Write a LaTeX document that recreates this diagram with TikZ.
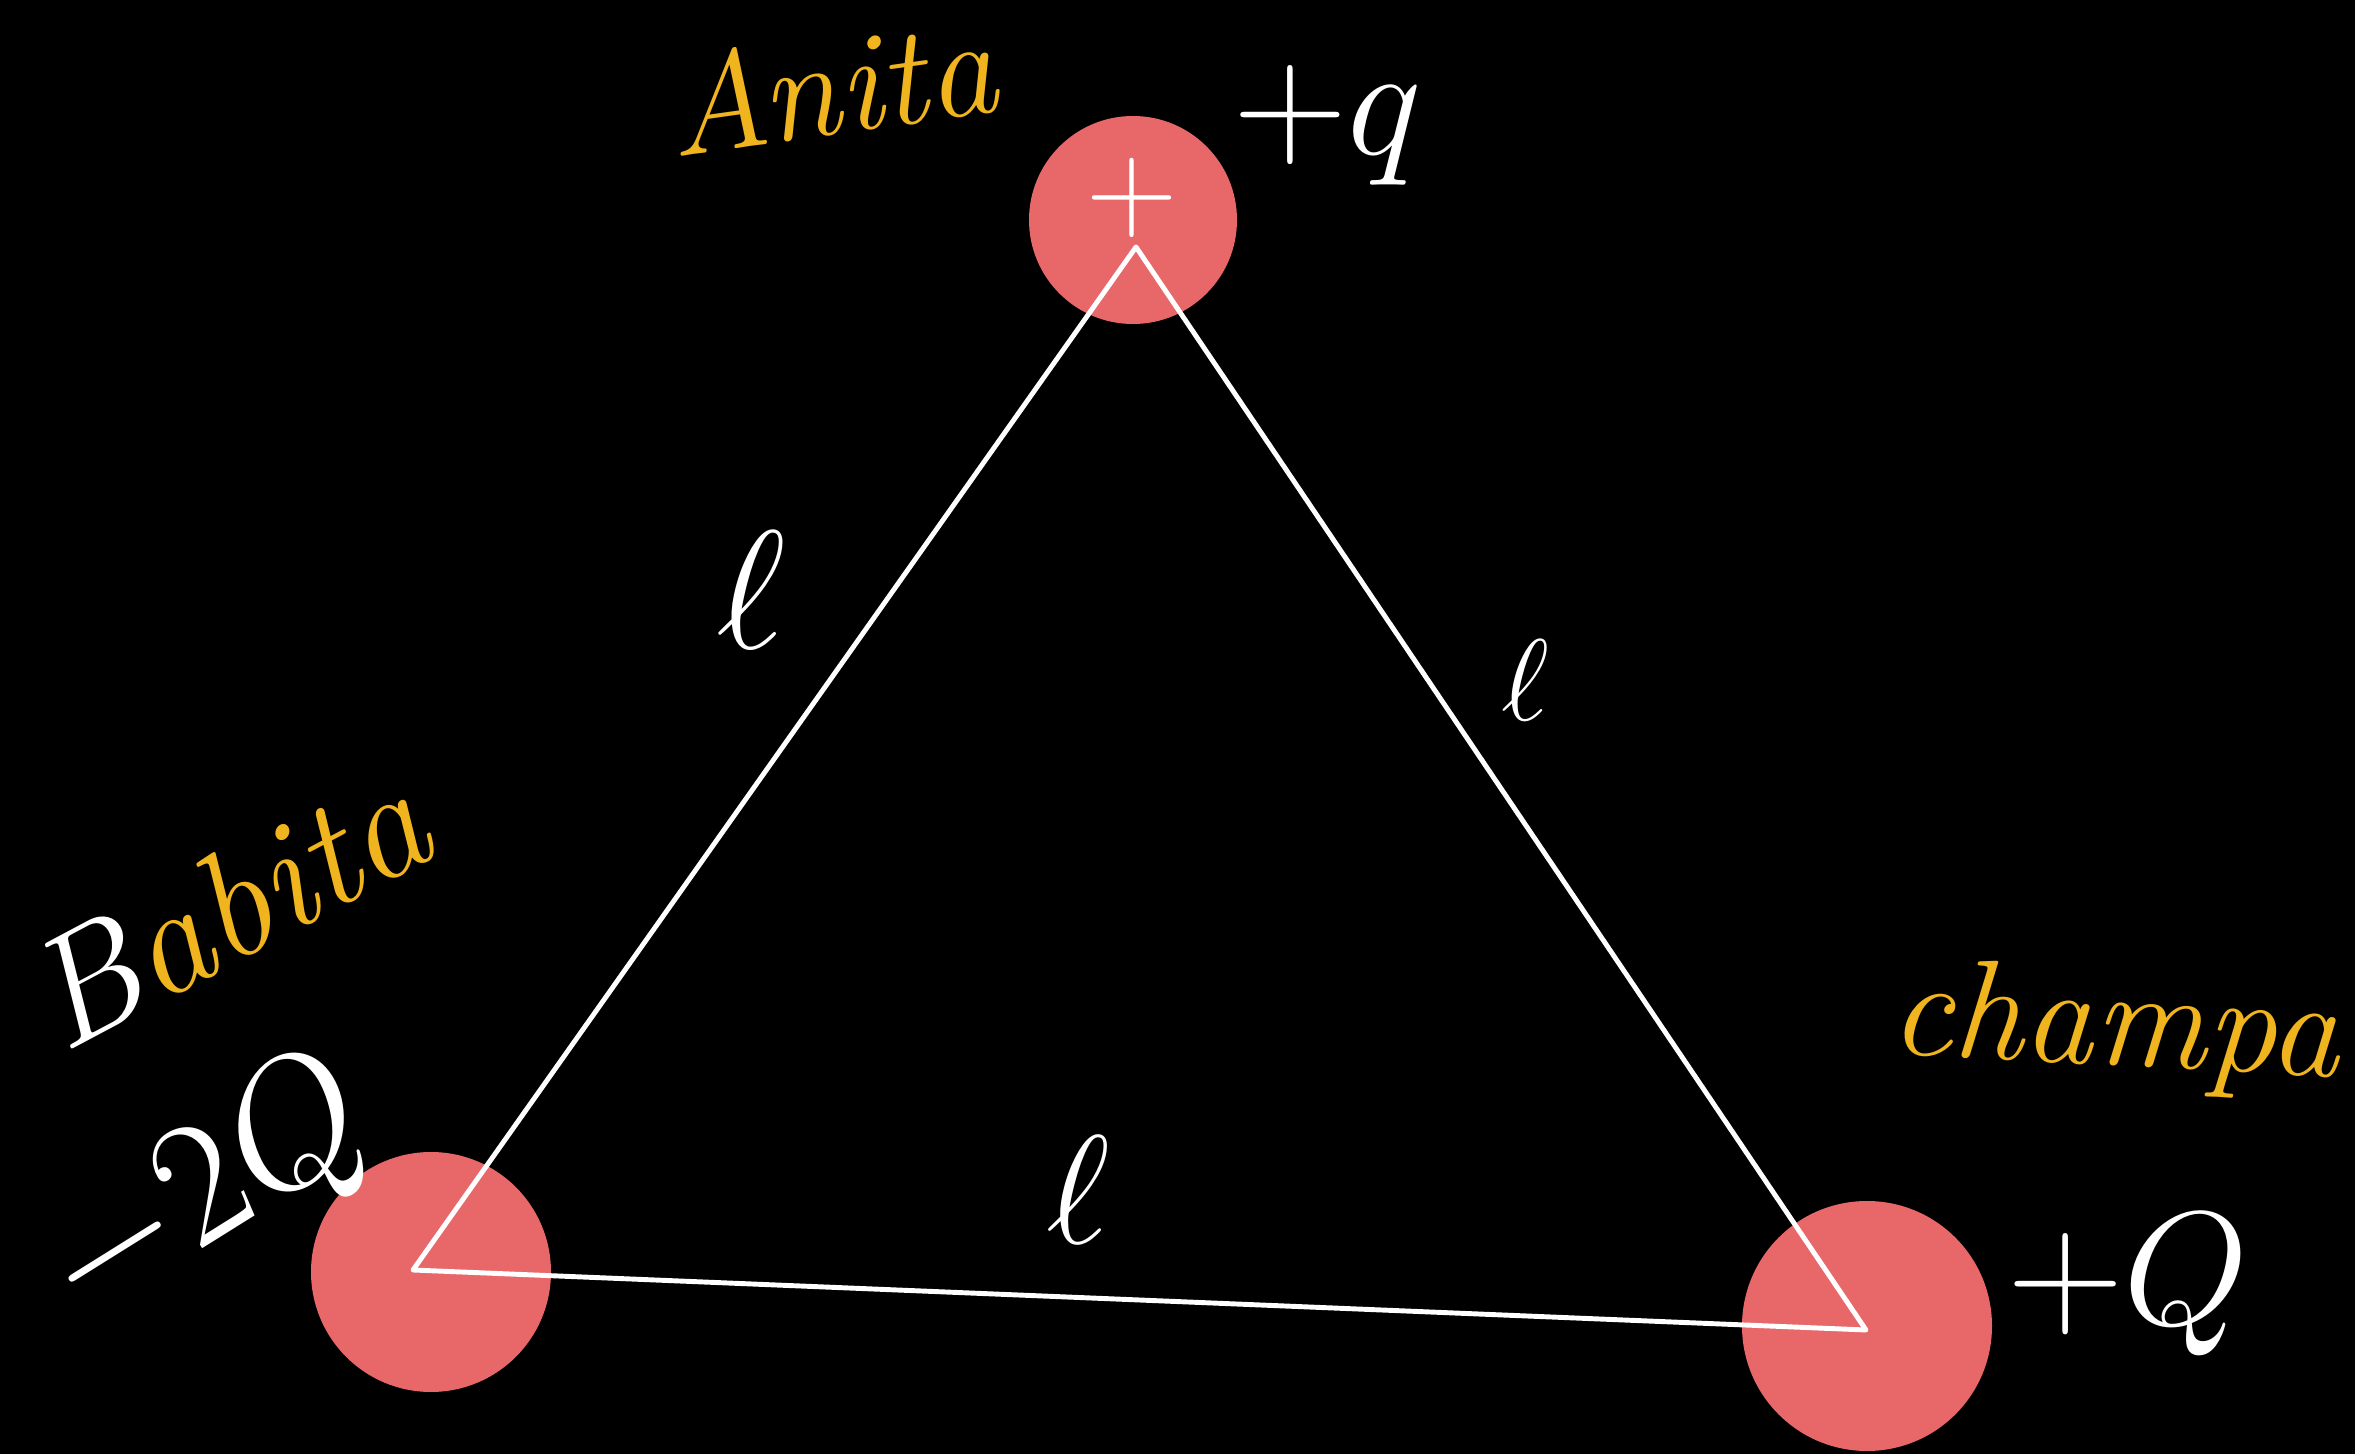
\RequirePackage{fix-cm}
\documentclass[tikz,border=0pt]{standalone}
\usetikzlibrary{positioning}
\definecolor{chargered}{HTML}{E8686A}
\definecolor{nameorange}{HTML}{F0B51E}

\begin{document}
\begin{tikzpicture}[
  x=0.1mm,
  y=-0.1mm,
  charge/.style={
    circle,
    fill=chargered,
    inner sep=0pt
  },
  rod/.style={
    draw=white,
    line width=1.4pt,
    line join=round
  },
  person/.style={
    text=nameorange,
    inner sep=0pt,
    font=\fontsize{40}{48}\selectfont\itshape
  },
  value/.style={
    text=white,
    inner sep=0pt
  }
]

% Board
\fill[black] (0,0) rectangle (2355,1454);
\useasboundingbox (0,0) rectangle (2355,1454);

% Charges
\node[charge,minimum size=20.8mm] (anita) at (1133,220) {};
\node[charge,minimum size=24mm] (babita) at (431,1272) {};
\node[charge,minimum size=25mm] (champa) at (1867,1326) {};

% Triangle of side l
\coordinate (vA) at (1136,247);
\coordinate (vB) at (413,1270);
\coordinate (vC) at (1866,1330);
\draw[rod] (vA) -- (vB) -- (vC) -- cycle;

\node[value,font=\fontsize{36}{40}\selectfont] (plusA) at (1132,198) {+};

% Names
\node[person,rotate=8] (nameA) at (830,85) {Anita};
\node[person,rotate=28,font=\fontsize{44}{50}\selectfont\itshape] (nameB) at (226,908) {{\color{white}B}abita};
\node[person,rotate=-3] (nameC) at (2115,1030) {champa};

% Charge values
\node[value,font=\fontsize{50}{56}\selectfont,rotate=32] (qB) at (208,1195) {$-2Q$};
\node[value,font=\fontsize{45}{50}\selectfont] (qA) at (1328,125) {$+q$};
\node[value,font=\fontsize{46}{52}\selectfont] (qC) at (2128,1285) {$+Q$};

% Side lengths
\node[value,font=\fontsize{48}{52}\selectfont] (sideAB) at (751,590) {$\ell$};
\node[value,font=\fontsize{33}{38}\selectfont] (sideAC) at (1525,680) {$\ell$};
\node[value,font=\fontsize{44}{48}\selectfont] (sideBC) at (1078,1190) {$\ell$};

\end{tikzpicture}
\end{document}
